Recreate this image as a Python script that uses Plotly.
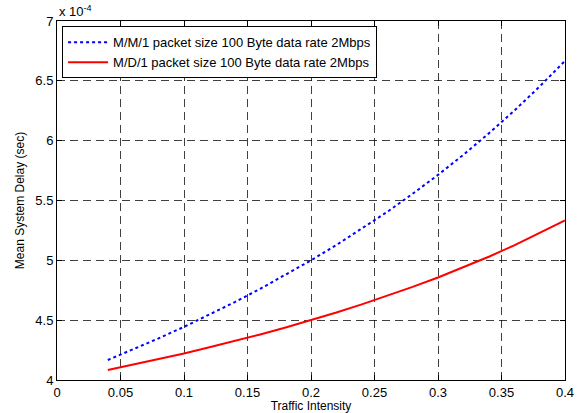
import plotly.graph_objects as go

# Traffic intensity (rho)
traffic = [0.04, 0.06, 0.08, 0.10, 0.12, 0.14, 0.16, 0.18, 0.20, 0.22,
           0.24, 0.26, 0.28, 0.30, 0.32, 0.34, 0.36, 0.38, 0.40]
# Mean system delay, in units of 1e-4 sec
mm1_delay = [4.167, 4.255, 4.348, 4.444, 4.545, 4.651, 4.762, 4.878, 5.000, 5.128,
             5.263, 5.405, 5.556, 5.714, 5.882, 6.061, 6.250, 6.452, 6.667]
md1_delay = [4.083, 4.128, 4.174, 4.222, 4.273, 4.326, 4.381, 4.439, 4.500, 4.564,
             4.632, 4.703, 4.778, 4.857, 4.941, 5.030, 5.125, 5.226, 5.333]

x_ticks = [0, 0.05, 0.1, 0.15, 0.2, 0.25, 0.3, 0.35, 0.4]
x_labels = ["0", "0.05", "0.1", "0.15", "0.2", "0.25", "0.3", "0.35", "0.4"]
y_ticks = [4, 4.5, 5, 5.5, 6, 6.5, 7]
y_labels = ["4", "4.5", "5", "5.5", "6", "6.5", "7"]

font = "Liberation Sans, Arial, sans-serif"

fig = go.Figure()
fig.add_trace(go.Scatter(x=traffic, y=mm1_delay, mode="lines",
                         name="M/M/1 packet size 100 Byte data rate 2Mbps",
                         line=dict(color="#0000ff", width=2, dash="dot")))
fig.add_trace(go.Scatter(x=traffic, y=md1_delay, mode="lines",
                         name="M/D/1 packet size 100 Byte data rate 2Mbps",
                         line=dict(color="#ff0000", width=2)))

axis_common = dict(showline=True, linecolor="black", linewidth=1, mirror="allticks",
                   ticks="inside", ticklen=5, tickcolor="black", automargin=False,
                   showgrid=True, gridcolor="rgba(0,0,0,0.75)", griddash="8px,5px", gridwidth=1,
                   zeroline=False, tickfont=dict(family=font, size=13, color="black"))

fig.update_xaxes(range=[0, 0.4], tickvals=x_ticks, ticktext=x_labels,
                 title=dict(text="Traffic Intensity", font=dict(family=font, size=12, color="black"),
                            standoff=2),
                 **axis_common)
fig.update_yaxes(range=[4, 7], tickvals=y_ticks, ticktext=y_labels,
                 title=dict(text="Mean System Delay (sec)", font=dict(family=font, size=12, color="black"),
                            standoff=8),
                 **axis_common)

fig.add_annotation(text="x 10<sup>-4</sup>", xref="paper", yref="paper", x=0, y=1,
                   xanchor="left", yanchor="bottom", yshift=0, showarrow=False,
                   font=dict(family=font, size=13, color="black"))

fig.update_layout(
    width=577, height=413, autosize=False,
    margin=dict(l=57, r=12, t=21, b=33, autoexpand=False),
    paper_bgcolor="white", plot_bgcolor="white",
    font=dict(family=font, size=13, color="black"),
    showlegend=True,
    legend=dict(x=0.01, y=0.985, xanchor="left", yanchor="top",
                bgcolor="white", bordercolor="black", borderwidth=1,
                font=dict(family=font, size=13, color="black"),
                tracegroupgap=0, itemwidth=40),
)

fig.write_html("out.html")
